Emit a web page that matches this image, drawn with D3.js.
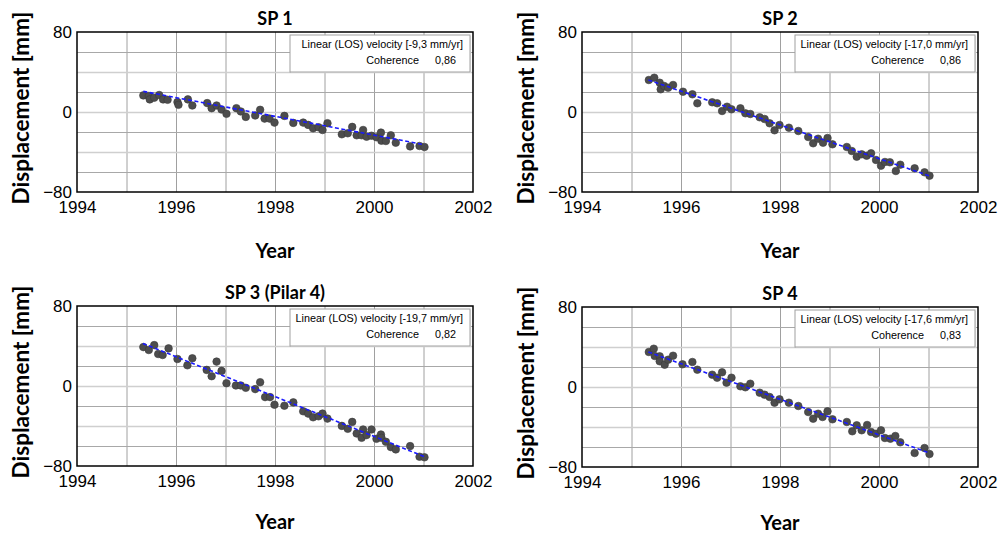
<!DOCTYPE html>
<html>
<head>
<meta charset="utf-8">
<script src="https://cdn.jsdelivr.net/npm/d3@7"></script>
<style>
  body { margin: 0; background: #fff; }
  svg { display: block; }
  .tick text { font-family: "Liberation Sans", Arial, sans-serif; font-size: 17px; fill: #000; }
  .bold { font-family: Lato, "Open Sans", sans-serif; font-weight: bold; fill: #000; }
  .leg { font-family: "Liberation Sans", Arial, sans-serif; font-size: 10.8px; fill: #000; }
</style>
</head>
<body>
<script>
// panel titles and legend texts
var titles = ["SP 1", "SP 2", "SP 3 (Pilar 4)", "SP 4"];
var velocities = ["-9,3", "-17,0", "-19,7", "-17,6"];
var coherences = ["0,86", "0,86", "0,82", "0,83"];

var xTickLabels = [1994, 1996, 1998, 2000, 2002];
var yTickLabels = [-80, 0, 80];

// SP 1
var years1 = [1995.34, 1995.45, 1995.47, 1995.56, 1995.66, 1995.74, 1995.83, 1996.03, 1996.05, 1996.24,
  1996.33, 1996.63, 1996.72, 1996.82, 1996.92, 1997.02, 1997.22, 1997.31, 1997.41, 1997.60,
  1997.70, 1997.79, 1997.89, 1997.99, 1998.19, 1998.37, 1998.57, 1998.67, 1998.77, 1998.88,
  1998.96, 1999.06, 1999.35, 1999.47, 1999.56, 1999.65, 1999.75, 1999.78, 1999.85, 1999.95,
  2000.05, 2000.14, 2000.15, 2000.24, 2000.34, 2000.44, 2000.73, 2000.92, 2001.02];
var disp1 = [16.6, 16, 12.6, 14.3, 17, 12.6, 12.2, 9.9, 7.2, 12.6,
  6.5, 8.9, 3.8, 6.5, 2.5, -1.8, 3.8, 0.5, -4.9, -3.5,
  2.2, -6.6, -6.6, -10.6, -3.9, -10.9, -10.6, -12.9, -16.3, -15.3,
  -18, -11.2, -22.3, -21.3, -14.9, -23.3, -23.3, -18, -24.7, -23.7,
  -25.3, -20.6, -28.7, -29, -23.3, -30.7, -34.4, -34, -35];

// SP 2
var years2 = [1995.35, 1995.46, 1995.57, 1995.59, 1995.66, 1995.74, 1995.84, 1996.04, 1996.23, 1996.33,
  1996.63, 1996.73, 1996.83, 1996.93, 1997.02, 1997.20, 1997.30, 1997.40, 1997.59, 1997.69,
  1997.79, 1997.89, 1997.99, 1998.18, 1998.37, 1998.57, 1998.67, 1998.77, 1998.87, 1998.96,
  1999.06, 1999.35, 1999.45, 1999.55, 1999.65, 1999.75, 1999.84, 1999.94, 2000.04, 2000.12,
  2000.22, 2000.34, 2000.43, 2000.72, 2000.92, 2001.02];
var disp2 = [32, 34.3, 29.3, 22.7, 26, 24.3, 27, 20.3, 17.7, 8.7,
  9.7, 8.7, 1, 5.3, 2.7, 3.7, -1.3, -2, -5.3, -7,
  -11.3, -18.3, -13, -15.7, -19, -25, -31.3, -26.7, -30.7, -26,
  -32.3, -35, -39, -44.7, -42.3, -43.7, -41.3, -48, -53.7, -50,
  -50.3, -59, -52.7, -56.3, -60.3, -63.7];

// SP 3 (Pilar 4)
var years3 = [1995.34, 1995.45, 1995.56, 1995.64, 1995.73, 1995.85, 1996.03, 1996.23, 1996.33, 1996.62,
  1996.72, 1996.82, 1996.92, 1997.02, 1997.21, 1997.31, 1997.41, 1997.60, 1997.70, 1997.80,
  1997.90, 1997.99, 1998.19, 1998.37, 1998.57, 1998.67, 1998.77, 1998.88, 1998.96, 1999.06,
  1999.35, 1999.47, 1999.56, 1999.65, 1999.75, 1999.78, 1999.85, 1999.95, 2000.05, 2000.14,
  2000.15, 2000.24, 2000.34, 2000.44, 2000.73, 2000.92, 2001.02];
var disp3 = [38.9, 36, 40.9, 32, 31, 37.6, 27, 20.7, 27.7, 16.1,
  9.8, 24.4, 15.1, 2.8, 0.5, 0.5, -1.8, -3.1, 3.8, -11.1,
  -11.1, -18.7, -19.7, -16.4, -25.3, -27.6, -31.3, -30.3, -27.6, -32.6,
  -39.9, -42.8, -35.9, -47.5, -51.8, -43.5, -49.1, -43.5, -52.8, -48.5,
  -51.8, -55.8, -61.1, -63.4, -60.1, -70.7, -71.3];

// SP 4
var years4 = [1995.35, 1995.45, 1995.47, 1995.57, 1995.57, 1995.67, 1995.74, 1995.84, 1996.03, 1996.23,
  1996.33, 1996.63, 1996.73, 1996.83, 1996.92, 1997.02, 1997.20, 1997.30, 1997.40, 1997.59,
  1997.69, 1997.79, 1997.89, 1997.99, 1998.18, 1998.37, 1998.57, 1998.67, 1998.77, 1998.86,
  1998.96, 1999.06, 1999.35, 1999.46, 1999.55, 1999.65, 1999.76, 1999.84, 1999.94, 2000.04,
  2000.12, 2000.23, 2000.33, 2000.43, 2000.72, 2000.92, 2001.02];
var disp4 = [35, 38.3, 31, 30.7, 25.7, 22.3, 27.3, 31.3, 22.7, 25,
  17.3, 12.3, 9.3, 14.7, 4.3, 9.3, 0.7, -0.3, 3.3, -5.7,
  -7.7, -10, -15.7, -12.3, -15.7, -19, -25, -31.7, -26.7, -30,
  -24.3, -32.3, -35, -44.3, -38.3, -43.3, -38, -45, -46.7, -43.3,
  -51, -51.7, -49, -55.3, -66, -61, -67];

// linear trend end points [year, mm]
var trend1 = [[1995.34, 20.6], [2001.02, -32.7]];
var trend2 = [[1995.34, 32], [2001.01, -63.7]];
var trend3 = [[1995.33, 42.6], [2001.02, -70.7]];
var trend4 = [[1995.34, 35], [2001.02, -66]];

var allYears = [years1, years2, years3, years4];
var allDisp = [disp1, disp2, disp3, disp4];
var allTrends = [trend1, trend2, trend3, trend4];

var W = 998, H = 534;
// plot area origins
var origins = [[77, 32], [582, 32], [77, 306], [582, 307]];
var pw = 396, ph = 160;

var svg = d3.select("body").append("svg")
    .attr("width", W)
    .attr("height", H);

origins.forEach(function (o, i) {
    drawPanel(i, o[0], o[1]);
});

function drawPanel(i, ox, oy) {
    var x = d3.scaleLinear().domain([1994, 2002]).range([0, pw]);
    var y = d3.scaleLinear().domain([-80, 80]).range([ph, 0]);

    var g = svg.append("g")
        .attr("transform", "translate(" + ox + "," + oy + ")");

    // grid lines
    g.append("g")
        .attr("class", "xgrid")
        .call(d3.axisBottom(x).tickValues(d3.range(1995, 2002)).tickSize(ph).tickFormat(""))
        .call(function (s) { s.select(".domain").remove(); })
        .selectAll("line").attr("stroke", "#a0a0a0");

    g.append("g")
        .attr("class", "ygrid")
        .call(d3.axisLeft(y).tickValues(d3.range(-60, 80, 20)).tickSize(-pw).tickFormat(""))
        .call(function (s) { s.select(".domain").remove(); })
        .selectAll("line").attr("stroke", function (d) {
            return d % 40 === 0 ? "#cfcfcf" : "#a8a8a8";
        }).attr("stroke-width", function (d) {
            return d % 40 === 0 ? 1.6 : 1;
        });

    // axes labels
    g.append("g")
        .attr("transform", "translate(0," + ph + ")")
        .call(d3.axisBottom(x).tickValues(xTickLabels).tickSize(0).tickPadding(9).tickFormat(d3.format("d")))
        .call(function (s) { s.select(".domain").remove(); });

    g.append("g")
        .call(d3.axisLeft(y).tickValues(yTickLabels).tickSize(0).tickPadding(5).tickFormat(d3.format("d")))
        .call(function (s) { s.select(".domain").remove(); });

    // frame
    g.append("rect")
        .attr("width", pw)
        .attr("height", ph)
        .attr("fill", "none")
        .attr("stroke", "#000")
        .attr("stroke-width", 1.5);

    // points
    var pts = allYears[i].map(function (yr, k) { return {x: yr, y: allDisp[i][k]}; });
    g.selectAll("circle.dot")
        .data(pts)
        .enter().append("circle")
        .attr("class", "dot")
        .attr("cx", function (d) { return x(d.x); })
        .attr("cy", function (d) { return y(d.y); })
        .attr("r", 3.8)
        .attr("fill", "#4d4d4d")
        .attr("stroke", "#3a3a3a")
        .attr("stroke-width", 0.6);

    // trend line
    g.append("path")
        .datum(allTrends[i])
        .attr("d", d3.line().x(function (d) { return x(d[0]); }).y(function (d) { return y(d[1]); }))
        .attr("fill", "none")
        .attr("stroke", "#1a1aff")
        .attr("stroke-width", 1.6)
        .attr("stroke-dasharray", "4,2.5");

    // legend box
    var lw = 180, lh = 37;
    var lg = g.append("g")
        .attr("transform", "translate(" + (pw - lw - 3) + ",3)");
    lg.append("rect")
        .attr("x", 1).attr("y", 1)
        .attr("width", lw).attr("height", lh)
        .attr("fill", "#e6e6e6");
    lg.append("rect")
        .attr("width", lw).attr("height", lh)
        .attr("fill", "#fff")
        .attr("stroke", "#a0a0a0")
        .attr("stroke-width", 1);
    lg.append("text")
        .attr("class", "leg")
        .attr("x", lw - 7).attr("y", 13)
        .attr("text-anchor", "end")
        .text("Linear (LOS) velocity [" + velocities[i] + " mm/yr]");
    lg.append("text")
        .attr("class", "leg")
        .attr("x", lw - 14).attr("y", 29)
        .attr("text-anchor", "end")
        .text(coherences[i]);
    lg.append("text")
        .attr("class", "leg")
        .attr("x", lw - 51).attr("y", 29)
        .attr("text-anchor", "end")
        .text("Coherence");

    // title
    g.append("text")
        .attr("class", "bold")
        .attr("x", pw / 2)
        .attr("y", -7)
        .attr("text-anchor", "middle")
        .attr("font-size", "18px")
        .text(titles[i]);

    // axis titles
    g.append("text")
        .attr("class", "bold")
        .attr("x", pw / 2)
        .attr("y", ph + (oy > 200 ? 63 : 66))
        .attr("text-anchor", "middle")
        .attr("font-size", "20px")
        .text("Year");

    g.append("text")
        .attr("class", "bold")
        .attr("transform", "translate(" + (-48) + "," + (ph / 2 - 4) + ") rotate(-90)")
        .attr("text-anchor", "middle")
        .attr("font-size", "22.5px")
        .text("Displacement [mm]");
}
</script>
</body>
</html>
